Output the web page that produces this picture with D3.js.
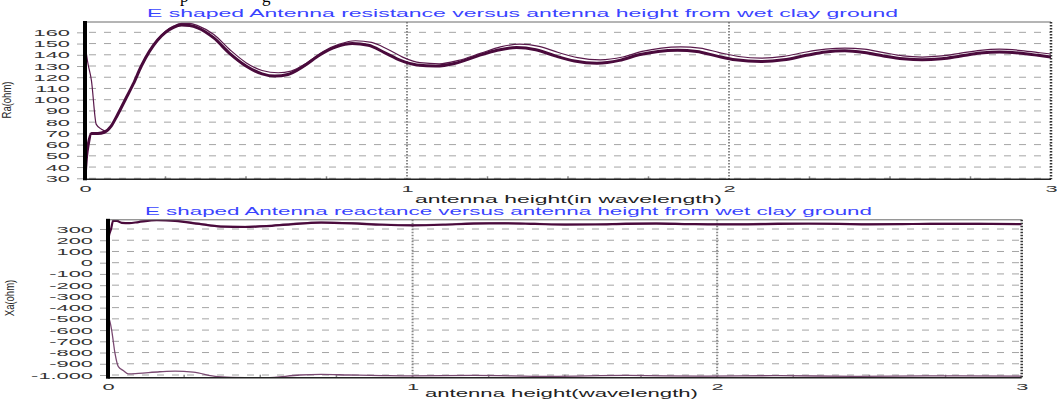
<!DOCTYPE html>
<html>
<head>
<meta charset="utf-8">
<script src="https://cdn.jsdelivr.net/npm/d3@7"></script>
<style>
  body { margin: 0; background: #fff; }
  svg { display: block; font-family: "Liberation Sans", Arial, sans-serif; }
</style>
</head>
<body>
<svg id="chart" width="1057" height="403"></svg>
<script>
// antenna height (in wavelengths) and resistance, thick trace
var raHeight = [0, 0.005, 0.01, 0.02, 0.04, 0.06, 0.08, 0.1, 0.125, 0.15, 0.175, 0.2, 0.225, 0.25, 0.275, 0.3,
                0.325, 0.35, 0.4, 0.45, 0.5, 0.55, 0.59, 0.63, 0.68, 0.73, 0.78, 0.83, 0.88, 0.93, 0.98, 1.03,
                1.09, 1.15, 1.22, 1.28, 1.34, 1.4, 1.46, 1.52, 1.59, 1.66, 1.72, 1.78, 1.84, 1.9, 1.96, 2.02,
                2.1, 2.17, 2.24, 2.3, 2.36, 2.42, 2.48, 2.54, 2.6, 2.66, 2.72, 2.78, 2.84, 2.9, 2.96, 3];
var raMain = [30, 50, 60, 70, 70, 71, 76, 86, 100, 114, 130, 143, 153, 160, 164.5, 166.5,
              166, 164, 155, 141, 130, 123, 121, 122.5, 130, 140, 147, 150, 148.5, 142, 135, 131,
              130, 132.5, 139, 144, 146.5, 144.5, 139, 134.5, 132.5, 135, 140, 143, 144, 143, 139, 135.5,
              134, 135.5, 139.5, 142.5, 143.5, 142, 139, 136.5, 135.5, 136.5, 139, 141.5, 142.5, 141.5, 139.5, 138];

// resistance, thin trace
var raHeight2 = [0, 0.008, 0.02, 0.035, 0.05, 0.065, 0.08, 0.1, 0.125, 0.15, 0.175, 0.2, 0.225, 0.25, 0.275, 0.3,
                 0.325, 0.35, 0.4, 0.45, 0.5, 0.55, 0.6, 0.64, 0.69, 0.74, 0.79, 0.84, 0.89, 0.94, 0.99, 1.04,
                 1.1, 1.16, 1.23, 1.29, 1.35, 1.41, 1.47, 1.53, 1.6, 1.67, 1.73, 1.79, 1.85, 1.91, 1.97, 2.03,
                 2.1, 2.17, 2.24, 2.3, 2.36, 2.42, 2.48, 2.54, 2.6, 2.66, 2.72, 2.78, 2.84, 2.9, 2.96, 3];
var raAlt = [150, 134, 117, 78, 74, 72, 76, 86, 100, 114, 130, 143, 153.5, 161, 165.5, 168,
             168, 166, 158, 144.5, 133, 126, 124, 125.5, 133, 143, 149.5, 152.5, 151, 145, 137.5, 133,
             132, 135, 141.5, 147, 149.5, 147.5, 142, 137.5, 135.5, 138, 143, 146, 147, 146, 142, 138.5,
             137, 138.5, 142.5, 145, 146, 145, 142, 139, 138, 139, 141.5, 144, 145, 144, 142, 140.7];

// reactance, upper thick trace
var xaHeight = [0, 0.004, 0.01, 0.017, 0.03, 0.045, 0.07, 0.1, 0.16, 0.22, 0.3, 0.37, 0.45, 0.52, 0.6, 0.7,
                0.8, 0.9, 1, 1.1, 1.2, 1.3, 1.4, 1.5, 1.6, 1.7, 1.8, 1.9, 2, 2.1, 2.2, 2.3,
                2.4, 2.5, 2.6, 2.7, 2.8, 2.9, 3];
var xaMain = [190, 250, 300, 375, 372, 355, 352, 362, 378, 372, 345, 322, 318, 325, 342, 356,
              350, 338, 333, 338, 348, 350, 345, 339, 340, 346, 348, 344, 341, 342, 346, 347,
              345, 342, 343, 346, 346, 345, 343];

// reactance, upper thin trace
var xaHeight2 = [0.1, 0.16, 0.22, 0.3, 0.37, 0.45, 0.52, 0.6, 0.7, 0.8, 0.9, 1, 1.1, 1.2, 1.3, 1.4,
                 1.5, 1.6, 1.7, 1.8, 1.9, 2, 2.1, 2.2, 2.3, 2.4, 2.5, 2.6, 2.7, 2.8, 2.9, 3];
var xaAlt = [366, 384, 378, 350, 327, 323, 331, 348, 362, 356, 343, 338, 343, 354, 356, 350,
             344, 345, 352, 354, 349, 345, 347, 352, 352, 349, 346, 347, 351, 351, 348, 346];

// reactance, lower trace
var xaHeight3 = [0, 0.006, 0.012, 0.023, 0.034, 0.05, 0.067, 0.1, 0.17, 0.22, 0.28, 0.36, 0.45, 0.52, 0.63, 0.7,
                 0.79, 0.9, 1, 1.2, 1.45, 1.7, 1.95, 2.2, 2.45, 2.7, 3];
var xaLow = [-480, -520, -600, -807, -926, -960, -990, -985, -971, -965, -975, -1015, -1024, -1024, -1000, -995,
             -1000, -1005, -1008, -1003, -1012, -1004, -1010, -1006, -1012, -1007, -1010];

var xTicks = [0, 1, 2, 3];
var xMinorTicks = [0.25, 0.5, 0.75, 1.25, 1.5, 1.75, 2.25, 2.5, 2.75];
var raTicks = [30, 40, 50, 60, 70, 80, 90, 100, 110, 120, 130, 140, 150, 160];
var xaTicks = [-1000, -900, -800, -700, -600, -500, -400, -300, -200, -100, 0, 100, 200, 300];

var stretch = 2.3; // the picture is widened, text glyphs too

var svg = d3.select('#chart');

// caption of the page above the chart, only its descenders show
svg.append('text').attr('x', 180).attr('y', 2).attr('font-family', '"Liberation Serif", serif')
   .attr('font-size', 17).attr('fill', '#000').text('p');
svg.append('text').attr('x', 262).attr('y', 2).attr('font-family', '"Liberation Serif", serif')
   .attr('font-size', 17).attr('fill', '#000').text('g');

drawPanel({
  id: 'ra',
  left: 85, right: 1051, top: 22, bottom: 179.3,
  yDomain: [29.1, 169.2],
  yTicks: raTicks,
  tickFormat: function(d) { return String(d); },
  title: 'E shaped Antenna resistance versus antenna height from wet clay ground',
  titleX: 147, titleY: 16.5, titleLen: 751,
  xLabel: 'antenna height(in wavelength)',
  xLabelX: 415, xLabelY: 203, xLabelLen: 307,
  yLabel: 'Ra(ohm)', yLabelX: 7, yLabelY: 100,
  series: [
    { h: raHeight2, v: raAlt, width: 1.2, color: '#5a1a4c' },
    { h: raHeight, v: raMain, width: 3, color: '#4a0a3c' }
  ]
});

drawPanel({
  id: 'xa',
  left: 108, right: 1021.7, top: 219.8, bottom: 377.7,
  yDomain: [-1024, 382],
  yTicks: xaTicks,
  tickFormat: function(d) { return d === -1000 ? '-1.000' : String(d); },
  title: 'E shaped Antenna reactance versus antenna height from wet clay ground',
  titleX: 145, titleY: 215, titleLen: 727,
  xLabel: 'antenna height(wavelength)',
  xLabelX: 425, xLabelY: 397, xLabelLen: 273,
  yLabel: 'Xa(ohm)', yLabelX: 10, yLabelY: 298,
  series: [
    { h: xaHeight3, v: xaLow, width: 1.3, color: '#7a4a72' },
    { h: xaHeight2, v: xaAlt, width: 1.2, color: '#9a7a98' },
    { h: xaHeight, v: xaMain, width: 2.2, color: '#4a0a3c' }
  ]
});

function drawPanel(p) {
  var x = d3.scaleLinear().domain([0, 3]).range([p.left, p.right]),
      y = d3.scaleLinear().domain(p.yDomain).range([p.bottom, p.top]);

  var g = svg.append('g').attr('class', 'panel-' + p.id);

  g.append('clipPath').attr('id', 'clip-' + p.id)
   .append('rect')
   .attr('x', p.left).attr('y', p.top)
   .attr('width', p.right - p.left).attr('height', p.bottom - p.top);

  // dashed horizontal grid
  g.append('g').selectAll('line')
   .data(p.yTicks)
   .enter()
   .append('line')
   .attr('x1', p.left + 4).attr('x2', p.right)
   .attr('y1', function(d) { return y(d); })
   .attr('y2', function(d) { return y(d); })
   .attr('stroke', '#a4a4a4')
   .attr('stroke-width', 1)
   .attr('stroke-dasharray', '7,8');

  // dotted vertical grid at 1 and 2
  g.append('g').selectAll('line')
   .data([1, 2])
   .enter()
   .append('line')
   .attr('x1', function(d) { return x(d); })
   .attr('x2', function(d) { return x(d); })
   .attr('y1', p.top).attr('y2', p.bottom)
   .attr('stroke', '#8a8a8a')
   .attr('stroke-width', 2)
   .attr('stroke-dasharray', '1.5,1.5');

  // minor ticks along the bottom
  g.append('g').selectAll('line')
   .data(xMinorTicks)
   .enter()
   .append('line')
   .attr('x1', function(d) { return x(d); })
   .attr('x2', function(d) { return x(d); })
   .attr('y1', p.bottom).attr('y2', p.bottom - 3)
   .attr('stroke', '#888')
   .attr('stroke-width', 1.5);

  // curves
  var line = d3.line()
               .x(function(d) { return x(d[0]); })
               .y(function(d) { return y(d[1]); })
               .curve(d3.curveMonotoneX);

  p.series.forEach(function(s) {
    g.append('path')
     .datum(d3.zip(s.h, s.v))
     .attr('clip-path', 'url(#clip-' + p.id + ')')
     .attr('fill', 'none')
     .attr('stroke', s.color)
     .attr('stroke-width', s.width)
     .attr('stroke-linejoin', 'round')
     .attr('d', line);
  });

  // frame
  g.append('line')
   .attr('x1', p.left).attr('x2', p.right)
   .attr('y1', p.top).attr('y2', p.top)
   .attr('stroke', '#6a6a6a').attr('stroke-width', 1);
  g.append('line')
   .attr('x1', p.right).attr('x2', p.right)
   .attr('y1', p.top).attr('y2', p.bottom)
   .attr('stroke', '#333').attr('stroke-width', 2.5)
   .attr('stroke-dasharray', '1.5,1.5');
  g.append('line')
   .attr('x1', p.left).attr('x2', p.right)
   .attr('y1', p.bottom).attr('y2', p.bottom)
   .attr('stroke', '#222').attr('stroke-width', 1.5);

  // y axis
  var yAxis = d3.axisLeft(y)
                .tickValues(p.yTicks)
                .tickSize(8)
                .tickFormat(p.tickFormat);

  var yg = g.append('g')
            .attr('transform', 'translate(' + p.left + ',0)')
            .call(yAxis);
  yg.select('.domain').remove();
  yg.selectAll('.tick line').attr('stroke', '#a4a4a4');
  yg.selectAll('.tick text')
    .attr('x', -15 / stretch)
    .attr('transform', 'scale(' + stretch + ',1)')
    .attr('font-size', 9.5)
    .attr('font-family', '"Liberation Sans", Arial, sans-serif')
    .attr('fill', '#333');

  g.append('line')
   .attr('x1', p.left).attr('x2', p.left)
   .attr('y1', p.top - 1).attr('y2', p.bottom + 1)
   .attr('stroke', '#000').attr('stroke-width', 4);

  // x axis
  var xAxis = d3.axisBottom(x)
                .tickValues(xTicks)
                .tickSize(0)
                .tickFormat(d3.format('d'));

  var xg = g.append('g')
            .attr('transform', 'translate(0,' + p.bottom + ')')
            .call(xAxis);
  xg.select('.domain').remove();
  xg.selectAll('.tick text')
    .attr('y', 6)
    .attr('transform', 'scale(' + stretch + ',1)')
    .attr('font-size', 9.5)
    .attr('font-family', '"Liberation Sans", Arial, sans-serif')
    .attr('fill', '#333');

  // titles
  g.append('text')
   .attr('x', p.titleX).attr('y', p.titleY)
   .attr('textLength', p.titleLen)
   .attr('lengthAdjust', 'spacingAndGlyphs')
   .attr('font-size', 10)
   .attr('fill', '#3a44ff')
   .text(p.title);

  g.append('text')
   .attr('x', p.xLabelX).attr('y', p.xLabelY)
   .attr('textLength', p.xLabelLen)
   .attr('lengthAdjust', 'spacingAndGlyphs')
   .attr('font-size', 10)
   .attr('fill', '#222')
   .text(p.xLabel);

  g.append('text')
   .attr('transform', 'translate(' + (p.yLabelX + 4) + ',' + p.yLabelY + ') rotate(-90) scale(1,1.4)')
   .attr('text-anchor', 'middle')
   .attr('font-size', 9.5)
   .attr('fill', '#222')
   .text(p.yLabel);
}
</script>
</body>
</html>
